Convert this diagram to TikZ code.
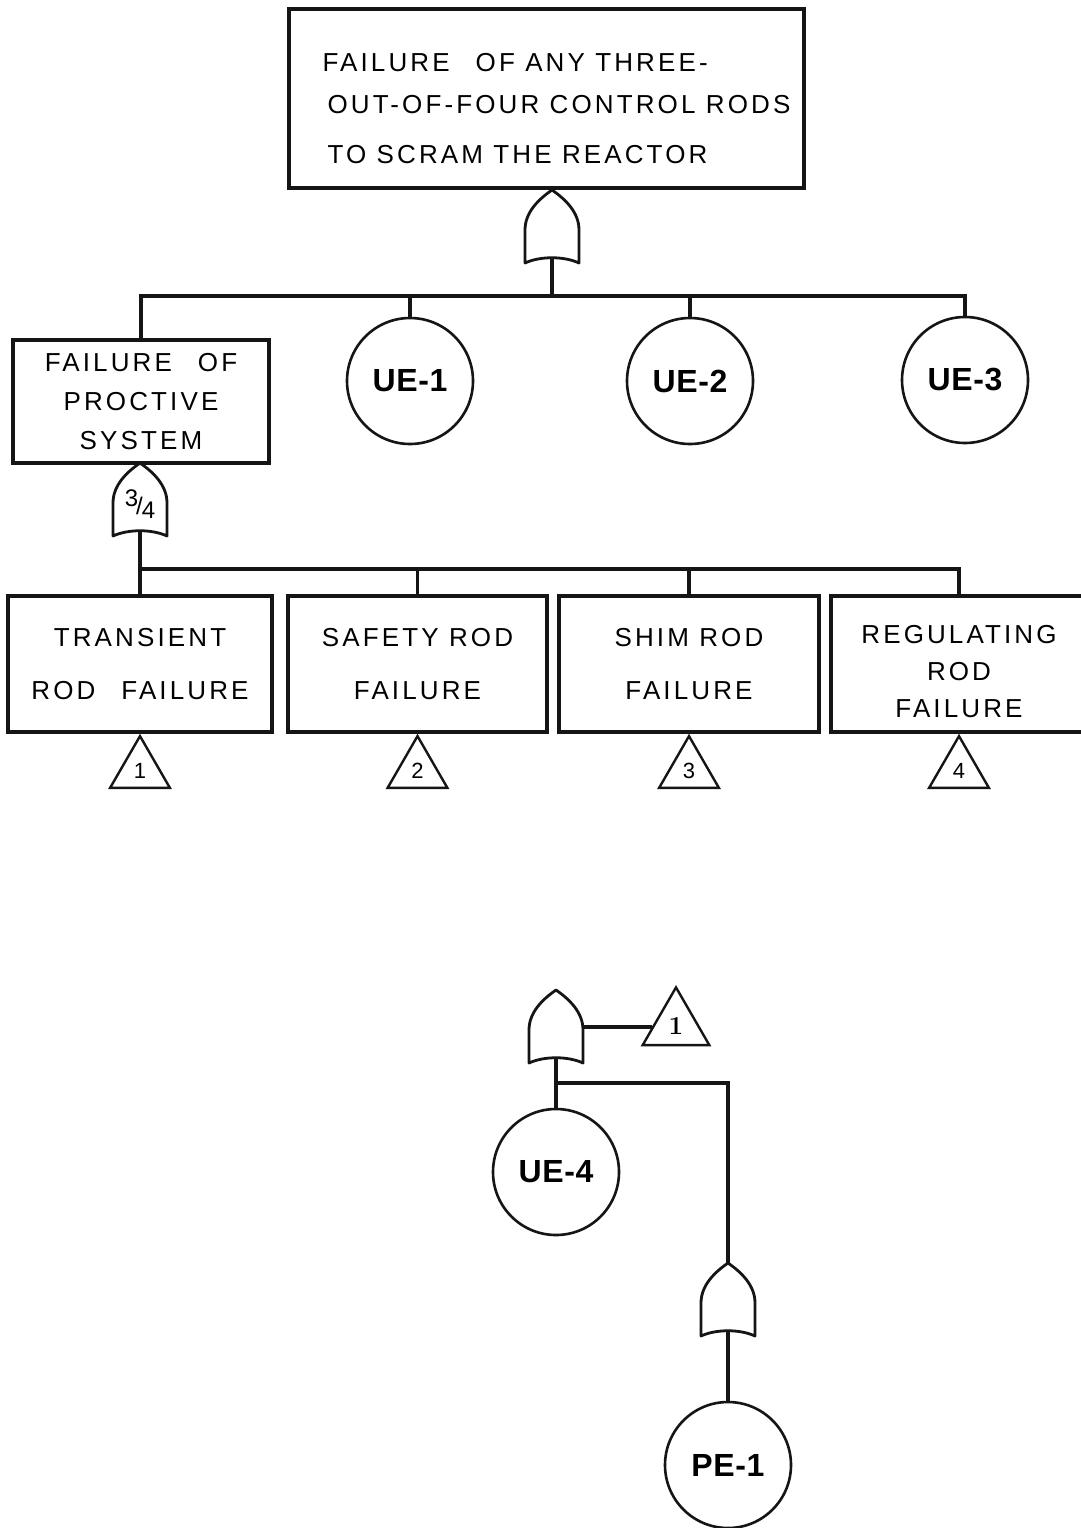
\documentclass[tikz,border=0pt]{standalone}
\usepackage{fontspec}
\usetikzlibrary{shapes.geometric}
\newfontfamily\lettering[LetterSpace=12]{Liberation Sans}
\newfontfamily\tagfont[LetterSpace=2]{Liberation Sans}
\definecolor{ink}{HTML}{151515}

\begin{document}
\begin{tikzpicture}[x=1pt,y=-1pt,
  evt/.style={draw=ink,line width=3.4pt,inner sep=0pt,align=center,
              font=\lettering\fontsize{26}{40}\selectfont},
  ue/.style={circle,draw=ink,line width=2.6pt,minimum size=126pt,inner sep=0pt,
             font=\tagfont\bfseries\fontsize{32}{32}\selectfont},
  xfer/.style={regular polygon,regular polygon sides=3,draw=ink,line width=2.4pt,
               minimum size=69pt,inner sep=0pt,anchor=corner 1,
               font=\lettering\fontsize{22}{22}\selectfont},
  wire/.style={draw=ink,line width=3.2pt},
  orgate/.pic={
    \draw[ink,line width=2.8pt,line join=round]
      (0,0) .. controls (-13,9) and (-27,22) .. (-27,40) -- (-27,73)
      .. controls (-12,66) and (12,66) .. (27,73) -- (27,40)
      .. controls (27,22) and (13,9) .. (0,0) -- cycle;
    \coordinate (-tip) at (0,0);
    \coordinate (-out) at (0,68);
    \coordinate (-right) at (27,37);
  }]
\useasboundingbox[fill=white] (0,0) rectangle (1081,1528);

% top event and first OR gate
\node[evt,minimum width=515pt,minimum height=179pt,align=left] (top) at (546.5,98.5)
  {\rule{0pt}{38pt}\hspace*{20pt}FAILURE\quad OF ANY THREE-\\[2pt]
   \hspace*{25pt}OUT-OF-FOUR CONTROL RODS\\[10pt]
   \hspace*{25pt}TO SCRAM THE REACTOR};
\pic (g1) at (552,190) {orgate};
\coordinate (j1) at (552,296);

\node[evt,minimum width=256pt,minimum height=123pt,
      font=\lettering\fontsize{26}{39}\selectfont] (prot) at (141,401.5)
  {FAILURE\quad OF\\PROCTIVE\\SYSTEM};
\node[ue] (ue1) at (410,381) {UE-1};
\node[ue] (ue2) at (690,381) {UE-2};
\node[ue] (ue3) at (965,380) {UE-3};

\draw[wire] (g1-out) -- (j1);
\draw[wire] (prot.north) |- (j1) -| (ue3.north);
\draw[wire] (ue1.north) -- (ue1.north |- j1);
\draw[wire] (ue2.north) -- (ue2.north |- j1);

% three-out-of-four gate
\pic (g2) at (140,463) {orgate};
\node[inner sep=0pt,font=\tagfont\fontsize{24}{24}\selectfont] (frac) at (140,504)
  {\raisebox{8pt}{3}\kern-2pt/\kern-1pt\raisebox{-4pt}{4}};
\coordinate (j2) at (140,569);

\node[evt,minimum width=264pt,minimum height=136pt,
      font=\lettering\fontsize{26}{53}\selectfont] (tr) at (140,664)
  {TRANSIENT\\ROD\quad FAILURE};
\node[evt,minimum width=259pt,minimum height=136pt,
      font=\lettering\fontsize{26}{53}\selectfont] (sr) at (417.5,664)
  {SAFETY ROD\\FAILURE};
\node[evt,minimum width=260pt,minimum height=136pt,
      font=\lettering\fontsize{26}{53}\selectfont] (hr) at (689,664)
  {SHIM ROD\\FAILURE};
\node[evt,minimum width=256pt,minimum height=136pt,
      font=\lettering\fontsize{26}{37}\selectfont] (rr) at (959,664)
  {\rule{0pt}{34pt}REGULATING\\ROD\\FAILURE};

\draw[wire] (g2-out) -- (tr.north);
\draw[wire] (j2) -| (rr.north);
\draw[wire] (sr.north) -- (sr.north |- j2);
\draw[wire] (hr.north) -- (hr.north |- j2);

\node[xfer] (x1) at (tr.south) {1};
\node[xfer] (x2) at (sr.south) {2};
\node[xfer] (x3) at (hr.south) {3};
\node[xfer] (x4) at (rr.south) {4};

% lower tree
\pic (g3) at (556,990) {orgate};
\node[xfer,minimum size=77pt,font=\rmfamily\bfseries\fontsize{26}{26}\selectfont] (x5) at (676,985) {1};
\draw[wire] (g3-right) -- (g3-right -| x5.west);
\node[ue] (ue4) at (556,1172) {UE-4};
\coordinate (j3) at (556,1083);
\draw[wire] (g3-out) -- (ue4.north);

\pic (g4) at (728,1263) {orgate};
\draw[wire] (j3) -| (g4-tip);
\node[ue] (pe1) at (728,1465) {PE-1};
\draw[wire] (g4-out) -- (pe1.north);
\end{tikzpicture}
\end{document}
